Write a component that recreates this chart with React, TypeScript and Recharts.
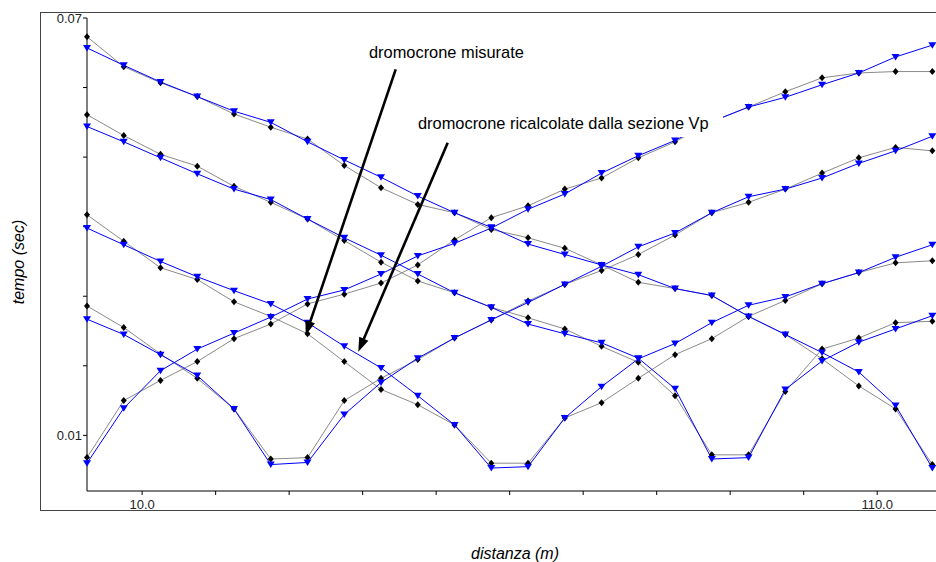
import React from 'react';
import { LineChart, Line, XAxis, YAxis } from 'recharts';

if (typeof document !== 'undefined') {
  document.body.style.margin = '0';
  document.documentElement.style.overflow = 'hidden';
}

// distances of the receivers (m)
const distanze = [2.5, 7.5, 12.5, 17.5, 22.5, 27.5, 32.5, 37.5, 42.5, 47.5, 52.5, 57.5, 62.5, 67.5, 72.5, 77.5, 82.5, 87.5, 92.5, 97.5, 102.5, 107.5, 112.5, 117.5];

// measured (black) and recomputed (blue) travel times (sec), one pair per shot
const misurate1 = [0.0068, 0.0150, 0.0179, 0.0206, 0.0239, 0.0260, 0.0289, 0.0303, 0.0319, 0.0345, 0.0381, 0.0413, 0.0430, 0.0454, 0.0470, 0.0499, 0.0522, 0.0551, 0.0572, 0.0594, 0.0614, 0.0621, 0.0623, 0.0623];
const calcolate1 = [0.0060, 0.0139, 0.0193, 0.0224, 0.0247, 0.0270, 0.0296, 0.0309, 0.0332, 0.0358, 0.0376, 0.0398, 0.0425, 0.0447, 0.0477, 0.0502, 0.0524, 0.0551, 0.0572, 0.0586, 0.0604, 0.0621, 0.0644, 0.0661];
const misurate2 = [0.0286, 0.0255, 0.0217, 0.0182, 0.0138, 0.0066, 0.0068, 0.0150, 0.0182, 0.0209, 0.0240, 0.0266, 0.0293, 0.0317, 0.0337, 0.0360, 0.0388, 0.0420, 0.0435, 0.0454, 0.0477, 0.0499, 0.0514, 0.0509];
const calcolate2 = [0.0267, 0.0245, 0.0216, 0.0186, 0.0138, 0.0058, 0.0061, 0.0130, 0.0176, 0.0211, 0.0240, 0.0266, 0.0291, 0.0317, 0.0343, 0.0371, 0.0391, 0.0420, 0.0443, 0.0454, 0.0470, 0.0491, 0.0509, 0.0530];
const misurate3 = [0.0417, 0.0379, 0.0341, 0.0324, 0.0292, 0.0271, 0.0246, 0.0206, 0.0166, 0.0144, 0.0115, 0.0060, 0.0060, 0.0125, 0.0147, 0.0182, 0.0216, 0.0239, 0.0271, 0.0294, 0.0318, 0.0334, 0.0348, 0.0351];
const calcolate3 = [0.0398, 0.0374, 0.0350, 0.0328, 0.0308, 0.0289, 0.0262, 0.0228, 0.0197, 0.0157, 0.0115, 0.0053, 0.0055, 0.0125, 0.0170, 0.0210, 0.0232, 0.0262, 0.0287, 0.0299, 0.0318, 0.0334, 0.0356, 0.0374];
const misurate4 = [0.0561, 0.0531, 0.0504, 0.0487, 0.0458, 0.0435, 0.0411, 0.0380, 0.0349, 0.0322, 0.0305, 0.0284, 0.0269, 0.0253, 0.0228, 0.0205, 0.0157, 0.0072, 0.0072, 0.0163, 0.0224, 0.0240, 0.0262, 0.0264];
const calcolate4 = [0.0544, 0.0522, 0.0499, 0.0476, 0.0454, 0.0439, 0.0411, 0.0384, 0.0359, 0.0332, 0.0305, 0.0284, 0.0260, 0.0246, 0.0233, 0.0211, 0.0167, 0.0066, 0.0068, 0.0166, 0.0207, 0.0234, 0.0253, 0.0272];
const misurate5 = [0.0673, 0.0630, 0.0607, 0.0587, 0.0562, 0.0543, 0.0526, 0.0488, 0.0456, 0.0432, 0.0420, 0.0396, 0.0384, 0.0369, 0.0345, 0.0320, 0.0311, 0.0301, 0.0271, 0.0245, 0.0210, 0.0171, 0.0138, 0.0058];
const calcolate5 = [0.0657, 0.0632, 0.0608, 0.0587, 0.0566, 0.0550, 0.0522, 0.0496, 0.0471, 0.0444, 0.0420, 0.0399, 0.0375, 0.0360, 0.0345, 0.0331, 0.0311, 0.0301, 0.0271, 0.0245, 0.0219, 0.0191, 0.0143, 0.0053];

// ticks
const xTicks = [10, 20, 30, 40, 50, 60, 70, 80, 90, 100, 110];
const xLabelled = [10, 110];
const yTicks = [0.01, 0.02, 0.03, 0.04, 0.05, 0.06, 0.07];
const yLabelled = [0.01, 0.07];

const misurate = [misurate1, misurate2, misurate3, misurate4, misurate5];
const calcolate = [calcolate1, calcolate2, calcolate3, calcolate4, calcolate5];

const rows = distanze.map((x, i) => {
  const r: Record<string, number> = { x };
  misurate.forEach((s, k) => (r['m' + (k + 1)] = s[i]));
  calcolate.forEach((s, k) => (r['c' + (k + 1)] = s[i]));
  return r;
});

const FONT = 'Arial, "Liberation Sans", Helvetica, sans-serif';

const Diamond = (props: any) => {
  const { cx, cy, index, dataKey } = props;
  if (cx == null || cy == null) return <g key={`${dataKey}-${index}`} />;
  return (
    <path
      key={`${dataKey}-${index}`}
      d={`M${cx},${cy - 3.5}L${cx + 3},${cy}L${cx},${cy + 3.5}L${cx - 3},${cy}Z`}
      fill="#000"
    />
  );
};

const TriDown = (props: any) => {
  const { cx, cy, index, dataKey } = props;
  if (cx == null || cy == null) return <g key={`${dataKey}-${index}`} />;
  return (
    <path
      key={`${dataKey}-${index}`}
      d={`M${cx - 4},${cy - 3}L${cx + 4},${cy - 3}L${cx},${cy + 3.5}Z`}
      fill="#0000ff"
    />
  );
};

const Arrow = ({ x1, y1, x2, y2 }: { x1: number; y1: number; x2: number; y2: number }) => {
  const dx = x2 - x1;
  const dy = y2 - y1;
  const len = Math.sqrt(dx * dx + dy * dy);
  const ux = dx / len;
  const uy = dy / len;
  const hl = 14;
  const hw = 5;
  const bx = x2 - ux * hl;
  const by = y2 - uy * hl;
  const px = -uy;
  const py = ux;
  return (
    <g>
      <line x1={x1} y1={y1} x2={bx + ux * 2} y2={by + uy * 2} stroke="#000" strokeWidth={2.6} />
      <path d={`M${x2},${y2}L${bx + px * hw},${by + py * hw}L${bx - px * hw},${by - py * hw}Z`} fill="#000" />
    </g>
  );
};

const near = (v: number, list: number[]) => list.some((t) => Math.abs(t - v) < 1e-9);

export default function App() {
  return (
    <div style={{ position: 'relative', width: 936, height: 562, overflow: 'hidden', fontFamily: FONT, background: '#fff' }}>
      <div
        style={{
          position: 'absolute',
          left: 40,
          top: 12,
          width: 1000,
          height: 497,
          border: '1px solid #444',
        }}
      />
      <div style={{ position: 'absolute', left: 0, top: 0 }}>
        <LineChart width={936} height={562} data={rows} margin={{ top: 18, right: 0, bottom: 41, left: 0 }}>
          <XAxis
            dataKey="x"
            type="number"
            domain={[2.5, 118]}
            ticks={xTicks}
            interval={0}
            height={30}
            tickSize={4}
            tickMargin={5}
            axisLine={{ stroke: '#000' }}
            tickLine={{ stroke: '#000' }}
            tick={{ fill: '#222', fontSize: 13, fontFamily: FONT }}
            tickFormatter={(v: number) => (near(v, xLabelled) ? v.toFixed(1) : '')}
          />
          <YAxis
            type="number"
            domain={[0.002, 0.07]}
            ticks={yTicks}
            interval={0}
            width={87}
            tickSize={4}
            tickMargin={1}
            axisLine={{ stroke: '#000' }}
            tickLine={{ stroke: '#000' }}
            tick={{ fill: '#222', fontSize: 13, fontFamily: FONT }}
            tickFormatter={(v: number) => (near(v, yLabelled) ? v.toFixed(2) : '')}
          />
          {misurate.map((_, k) => (
            <Line
              key={'m' + k}
              dataKey={'m' + (k + 1)}
              type="linear"
              stroke="#8a8a8a"
              strokeWidth={1}
              dot={Diamond}
              activeDot={false}
              isAnimationActive={false}
            />
          ))}
          {calcolate.map((_, k) => (
            <Line
              key={'c' + k}
              dataKey={'c' + (k + 1)}
              type="linear"
              stroke="#0000ff"
              strokeWidth={1}
              dot={TriDown}
              activeDot={false}
              isAnimationActive={false}
            />
          ))}
        </LineChart>
      </div>
      <svg
        width={936}
        height={562}
        style={{ position: 'absolute', left: 0, top: 0, pointerEvents: 'none', fontFamily: FONT }}
      >
        <text
          transform="translate(18,262) rotate(-90)"
          textAnchor="middle"
          dominantBaseline="central"
          fontSize={16}
          fontStyle="italic"
          fill="#000"
        >
          tempo (sec)
        </text>
        <text x={515} y={559} textAnchor="middle" fontSize={16} fontStyle="italic" fill="#000">
          distanza (m)
        </text>
        <rect x={343} y={36} width={209} height={33} fill="#fff" />
        <text x={369} y={58} fontSize={16.4} fill="#000">
          dromocrone misurate
        </text>
        <rect x={400} y={108} width={323} height={29} fill="#fff" />
        <text x={418} y={129} fontSize={16.4} fill="#000">
          dromocrone ricalcolate dalla sezione Vp
        </text>
        <Arrow x1={395.7} y1={69.3} x2={305.7} y2={335} />
        <Arrow x1={447.7} y1={142.7} x2={358.3} y2={351.7} />
      </svg>
    </div>
  );
}
